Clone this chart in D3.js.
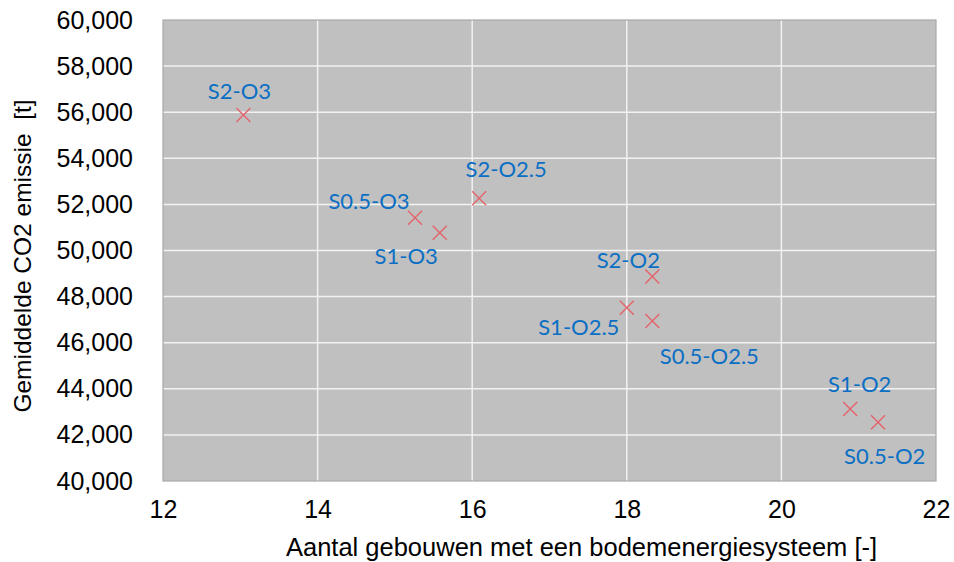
<!DOCTYPE html>
<html><head><meta charset="utf-8">
<script src="https://cdn.jsdelivr.net/npm/d3@7"></script>
<style>body{margin:0;background:#fff}svg{display:block}</style>
</head><body>
<script>
const names = ["S2-O3","S0.5-O3","S1-O3","S2-O2.5","S2-O2","S1-O2.5","S0.5-O2.5","S1-O2","S0.5-O2"];
const xValues = [13.04,15.26,15.58,16.09,18.33,18.00,18.33,20.89,21.25];
const yValues = [55880,51420,50770,52270,48870,47520,46940,43120,42550];
const xTicks = [12,14,16,18,20,22];
const yTicks = [40000,42000,44000,46000,48000,50000,52000,54000,56000,58000,60000];
// label placement: [dx, dy] offset of label centre from the point, in px
const labelOffsets = [[-4,-24.5],[-46,-17.5],[-33.5,22.5],[27,-29.5],[-24,-16.7],[-48,18.5],[57,34],[9.5,-26],[6.7,33]];

const W=954,H=562;
const m={l:163,r:936,t:20,b:481};
const svg=d3.select("body").append("svg").attr("width",W).attr("height",H);
const x=d3.scaleLinear().domain([12,22]).range([m.l,m.r]);
const y=d3.scaleLinear().domain([40000,60000]).range([m.b,m.t]);

svg.append("rect").attr("x",m.l).attr("y",m.t).attr("width",m.r-m.l).attr("height",m.b-m.t)
  .attr("fill","#c0c0c0");
// grid
const g=svg.append("g");
g.selectAll(".vx").data(xTicks.slice(1,-1)).join("line")
  .attr("x1",d=>x(d)).attr("x2",d=>x(d)).attr("y1",m.t).attr("y2",m.b)
  .attr("stroke","#f2f2f2").attr("stroke-width",1.5);
g.selectAll(".hy").data(yTicks.slice(1,-1)).join("line")
  .attr("y1",d=>y(d)).attr("y2",d=>y(d)).attr("x1",m.l).attr("x2",m.r)
  .attr("stroke","#f2f2f2").attr("stroke-width",1.5);
svg.append("rect").attr("x",m.l).attr("y",m.t).attr("width",m.r-m.l).attr("height",m.b-m.t)
  .attr("fill","none").attr("stroke","#a8a8a8").attr("stroke-width",1.2);

// axes
const fmt=d3.format(",");
const xAxis=svg.append("g").attr("transform",`translate(0,${m.b})`)
  .call(d3.axisBottom(x).tickValues(xTicks).tickSize(0).tickPadding(19));
const yAxis=svg.append("g").attr("transform",`translate(${m.l},0)`)
  .call(d3.axisLeft(y).tickValues(yTicks).tickFormat(fmt).tickSize(0).tickPadding(30));
[xAxis,yAxis].forEach(a=>{a.select(".domain").remove();
  a.selectAll("text").attr("font-family","Liberation Sans, Arial, sans-serif").attr("font-size",25).attr("fill","#000");});
xAxis.selectAll("text").attr("dy","0.71em");

svg.append("text").attr("x",581.5).attr("y",556)
  .attr("text-anchor","middle").attr("font-family","Liberation Sans, Arial, sans-serif").attr("font-size",25.5)
  .text("Aantal gebouwen met een bodemenergiesysteem [-]");
svg.append("text").attr("transform",`translate(31,${256}) rotate(-90)`)
  .attr("text-anchor","middle").attr("font-family","Liberation Sans, Arial, sans-serif").attr("font-size",24.5)
  .attr("xml:space","preserve")
  .text("Gemiddelde CO2 emissie  [t]");

// points
const data=names.map((n,i)=>({n,x:xValues[i],y:yValues[i],o:labelOffsets[i]}));
const s=7;
const pts=svg.append("g").selectAll("g").data(data).join("g")
  .attr("transform",d=>`translate(${x(d.x)},${y(d.y)})`);
pts.append("path").attr("d",`M${-s},${-s}L${s},${s}M${-s},${s}L${s},${-s}`)
  .attr("stroke","#e4636a").attr("stroke-width",1.4).attr("fill","none");
svg.append("g").selectAll("text").data(data).join("text")
  .attr("x",d=>x(d.x)+d.o[0]).attr("y",d=>y(d.y)+d.o[1])
  .attr("text-anchor","middle").attr("dominant-baseline","central")
  .attr("font-family","Lato, 'Open Sans', sans-serif").attr("font-size",22)
  .attr("fill","#0a6fc4").text(d=>d.n);
</script>
</body></html>
